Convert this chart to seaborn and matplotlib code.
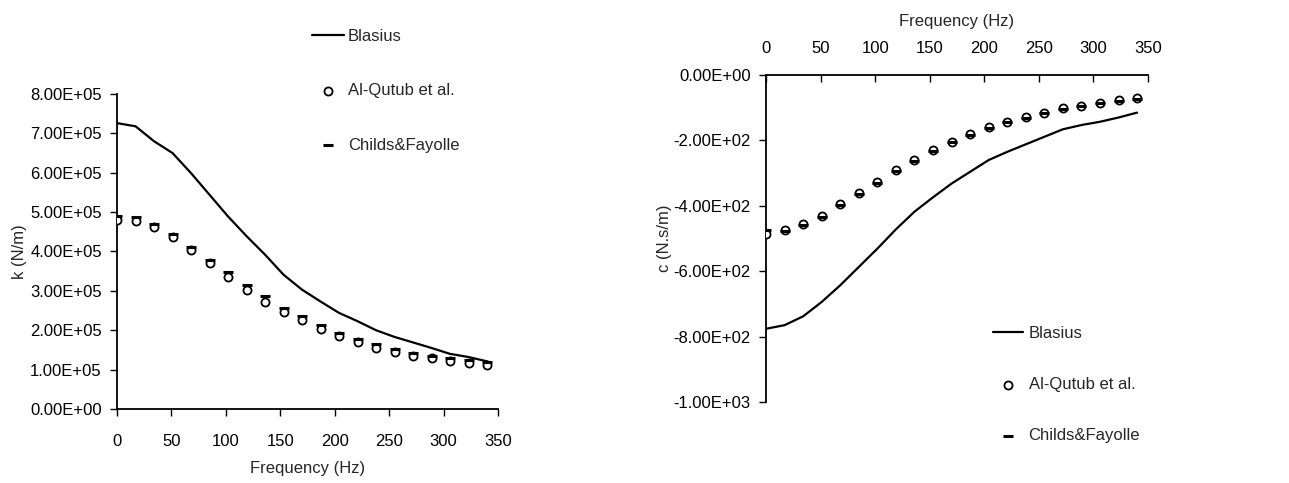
import numpy as np
import pandas as pd
import matplotlib
matplotlib.use("Agg")
import matplotlib.pyplot as plt
import seaborn as sns
from matplotlib.ticker import FuncFormatter

freq = [0, 17, 34, 51, 68, 85, 102, 119, 136, 153, 170, 187, 204, 221, 238, 255, 272, 289, 306, 323, 340]

# stiffness k (N/m)
k_blasius = [7.26e5, 7.18e5, 6.80e5, 6.50e5, 5.99e5, 5.44e5, 4.89e5, 4.39e5, 3.92e5, 3.41e5, 3.03e5,
             2.73e5, 2.44e5, 2.23e5, 2.00e5, 1.83e5, 1.69e5, 1.55e5, 1.40e5, 1.32e5, 1.21e5]
k_qutub = [4.81e5, 4.77e5, 4.61e5, 4.36e5, 4.03e5, 3.71e5, 3.34e5, 3.01e5, 2.72e5, 2.46e5, 2.25e5,
           2.03e5, 1.85e5, 1.70e5, 1.55e5, 1.45e5, 1.35e5, 1.30e5, 1.23e5, 1.17e5, 1.11e5]
k_childs = [4.91e5, 4.88e5, 4.71e5, 4.45e5, 4.12e5, 3.79e5, 3.47e5, 3.14e5, 2.86e5, 2.57e5, 2.35e5,
            2.13e5, 1.93e5, 1.78e5, 1.66e5, 1.53e5, 1.42e5, 1.35e5, 1.29e5, 1.24e5, 1.19e5]

# damping c (N.s/m)
c_blasius = [-776, -765, -738, -694, -643, -587, -531, -472, -418, -374, -332,
             -296, -260, -235, -212, -189, -166, -153, -143, -130, -115]
c_qutub = [-485, -474, -456, -431, -396, -362, -327, -291, -260, -230, -204,
           -181, -160, -143, -128, -115, -102, -94, -85, -77, -71]
c_childs = [-474, -476, -458, -433, -398, -364, -329, -293, -262, -232, -206,
            -183, -162, -145, -130, -117, -104, -96, -87, -79, -73]

labels = ["Blasius", "Al-Qutub et al.", "Childs&Fayolle"]

sns.set_style("white")
plt.rcParams['font.family'] = ['Liberation Sans', 'DejaVu Sans']
plt.rcParams['font.size'] = 12

fig = plt.figure(figsize=(12.89, 4.83), dpi=100)
ax1 = fig.add_axes([0.0908, 0.1532, 0.2955, 0.6522])
ax2 = fig.add_axes([0.5943, 0.1677, 0.2963, 0.6770])

sci = FuncFormatter(lambda v, p: f"{v:.2E}")


def draw(ax, y_line, y_circ, y_dash):
    df = pd.DataFrame({"f": freq, "line": y_line, "circ": y_circ, "dash": y_dash})
    sns.lineplot(data=df, x="f", y="line", ax=ax, color="black", lw=1.6, label=labels[0])
    sns.scatterplot(data=df, x="f", y="circ", ax=ax, marker="o", s=34, facecolor="white",
                    edgecolor="black", linewidth=1.3, label=labels[1], zorder=3)
    sns.scatterplot(data=df, x="f", y="dash", ax=ax, marker="_", s=45, color="black",
                    linewidth=2.2, label=labels[2], zorder=4)
    ax.set_xlim(0, 350)
    ax.set_xticks(range(0, 351, 50))
    ax.yaxis.set_major_formatter(sci)
    for s in ax.spines.values():
        s.set_color("black")
        s.set_linewidth(1.3)
    ax.tick_params(axis="both", colors="black", labelsize=12, length=5, width=1, pad=6)


draw(ax1, k_blasius, k_qutub, k_childs)
ax1.set_ylim(0, 8e5)
ax1.set_yticks(np.arange(0, 8.01e5, 1e5))
ax1.spines["top"].set_visible(False)
ax1.spines["right"].set_visible(False)
ax1.tick_params(axis="x", direction="out", bottom=True, pad=13)
ax1.tick_params(axis="y", direction="out", left=True)
ax1.set_xlabel("Frequency (Hz)", fontsize=12)
ax1.xaxis.set_label_coords(0.5, -0.165)
ax1.set_ylabel("k (N/m)", fontsize=12)
ax1.yaxis.set_label_coords(-0.237, 0.5)
ax1.legend(loc="upper left", bbox_to_anchor=(0.242, 0.94), bbox_transform=fig.transFigure,
           frameon=False, fontsize=12, handlelength=1.92, handletextpad=0.25,
           labelspacing=2.36, borderpad=0, borderaxespad=0)

draw(ax2, c_blasius, c_qutub, c_childs)
ax2.set_ylim(-1000, 0)
ax2.set_yticks(np.arange(-1000, 1, 200))
ax2.xaxis.tick_top()
ax2.xaxis.set_label_position("top")
ax2.spines["bottom"].set_visible(False)
ax2.spines["right"].set_visible(False)
ax2.tick_params(axis="x", direction="in", top=True, bottom=False, pad=14)
ax2.tick_params(axis="y", direction="out", left=True)
ax2.set_xlabel("Frequency (Hz)", fontsize=12)
ax2.xaxis.set_label_coords(0.5, 1.15)
ax2.set_ylabel("c (N.s/m)", fontsize=12)
ax2.yaxis.set_label_coords(-0.246, 0.5)
ax2.legend(loc="upper left", bbox_to_anchor=(0.770, 0.326), bbox_transform=fig.transFigure,
           frameon=False, fontsize=12, handlelength=1.8, handletextpad=0.36,
           labelspacing=2.18, borderpad=0, borderaxespad=0)

fig.savefig("out.png", dpi=100, facecolor="white")
